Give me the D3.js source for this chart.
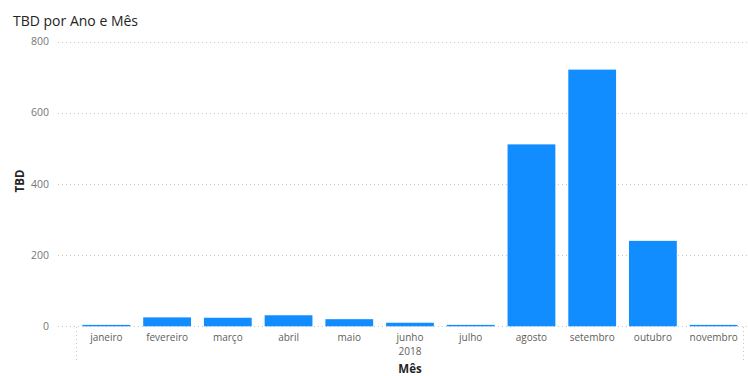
<!DOCTYPE html>
<html>
<meta charset="utf-8">
<title>TBD por Ano e Mês</title>
<style>
html,body{
  margin:0;
  background:#fff;
}
text{
  font-family:"Open Sans","Noto Sans",sans-serif;
}
</style>
<script src="https://d3js.org/d3.v7.min.js"></script>
<body>
<script>

var meses = ["janeiro","fevereiro","março","abril","maio","junho","julho","agosto","setembro","outubro","novembro"];
var tbd = [4, 25, 24, 31, 20, 10, 4, 511, 721, 240, 4];
var yTicks = [0, 200, 400, 600, 800];
var ano = "2018";

var width = 748, height = 376;

var svg = d3.select("body").append("svg")
    .attr("width", width)
    .attr("height", height);

var x = d3.scaleBand()
    .domain(meses)
    .range([76, 744])
    .paddingInner(0.213)
    .paddingOuter(0.1065);

var y = d3.scaleLinear()
    .domain([0, 800])
    .range([326.3, 41.5]);

// title
svg.append("text")
    .attr("x", 13)
    .attr("y", 26)
    .attr("font-size", 14)
    .attr("fill", "#252423")
    .text("TBD por Ano e Mês");

// gridlines
svg.append("g")
  .selectAll("line")
  .data(yTicks)
  .enter().append("line")
    .attr("x1", 58)
    .attr("x2", 748)
    .attr("y1", function(d){ return Math.round(y(d)) + 0.5; })
    .attr("y2", function(d){ return Math.round(y(d)) + 0.5; })
    .attr("stroke", "#c8c8c8")
    .attr("stroke-dasharray", "1,3");

// y tick labels
svg.append("g")
  .selectAll("text")
  .data(yTicks)
  .enter().append("text")
    .attr("x", 49)
    .attr("y", function(d){ return y(d); })
    .attr("dy", "0.35em")
    .attr("text-anchor", "end")
    .attr("font-size", 10.5)
    .attr("fill", "#777")
    .text(function(d){ return d; });

// y axis title
svg.append("text")
    .attr("transform", "translate(24," + 181 + ") rotate(-90)")
    .attr("text-anchor", "middle")
    .attr("font-size", 11.5)
    .attr("font-weight", "bold")
    .attr("fill", "#252423")
    .text("TBD");

// bars
svg.append("g")
  .selectAll("rect")
  .data(meses)
  .enter().append("rect")
    .attr("x", function(d){ return x(d); })
    .attr("width", x.bandwidth())
    .attr("y", function(d, i){ return y(tbd[i]); })
    .attr("height", function(d, i){ return y(0) - y(tbd[i]); })
    .attr("fill", "#118DFF");

// x labels
svg.append("g")
  .selectAll("text")
  .data(meses)
  .enter().append("text")
    .attr("x", function(d){ return x(d) + x.bandwidth() / 2; })
    .attr("y", 341)
    .attr("text-anchor", "middle")
    .attr("font-size", 10)
    .attr("fill", "#605E5C")
    .text(function(d){ return d; });

// year group label and separators
var r = x.range();
svg.append("text")
    .attr("x", (r[0] + r[1]) / 2)
    .attr("y", 355)
    .attr("text-anchor", "middle")
    .attr("font-size", 10)
    .attr("fill", "#605E5C")
    .text(ano);

svg.append("g")
  .selectAll("line")
  .data([r[0] + 0.5, r[1] - 0.5])
  .enter().append("line")
    .attr("x1", function(d){ return d; })
    .attr("x2", function(d){ return d; })
    .attr("y1", 327)
    .attr("y2", 362)
    .attr("stroke", "#c8c8c8")
    .attr("stroke-dasharray", "1,3");

// x axis title
svg.append("text")
    .attr("x", (r[0] + r[1]) / 2)
    .attr("y", 373)
    .attr("text-anchor", "middle")
    .attr("font-size", 11.5)
    .attr("font-weight", "bold")
    .attr("fill", "#252423")
    .text("Mês");

</script>
</body>
</html>
